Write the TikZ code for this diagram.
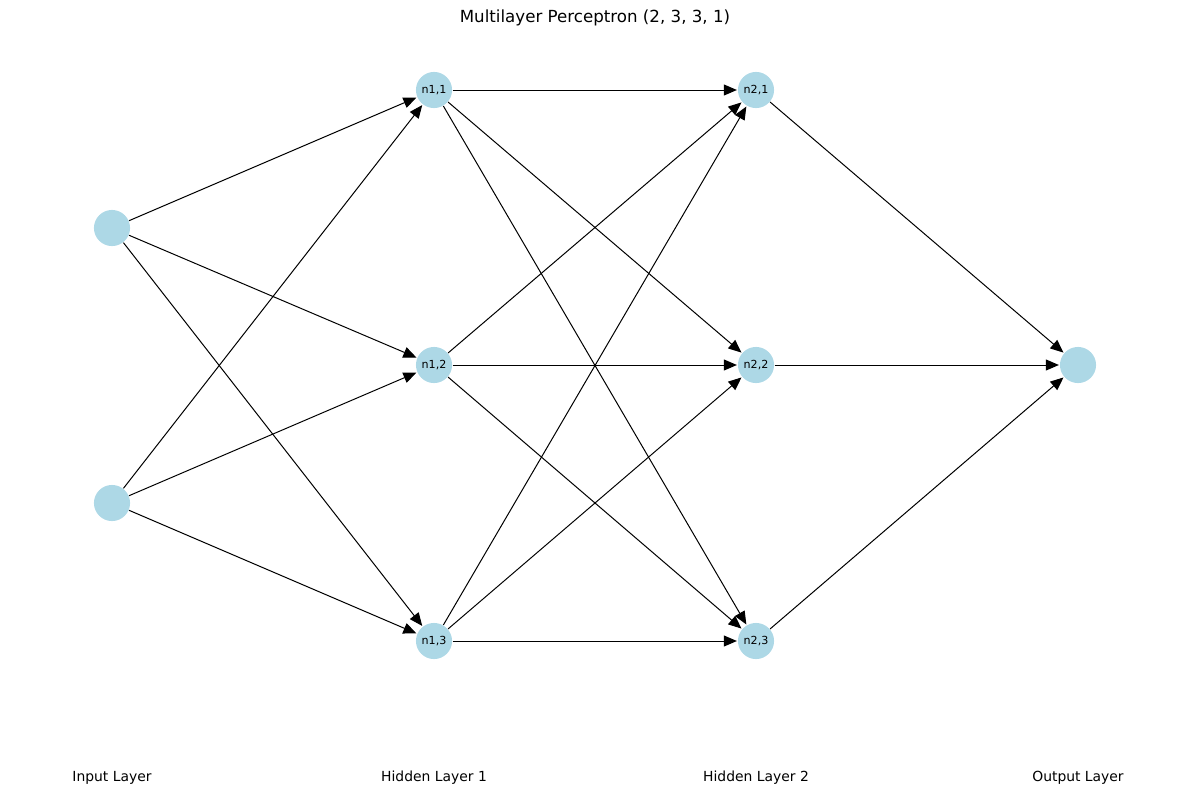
\documentclass[tikz,border=0pt]{standalone}
\usepackage{fontspec}
\setmainfont{DejaVu Sans}
\usetikzlibrary{arrows.meta}
\definecolor{neuron}{HTML}{ADD8E6}
\tikzset{every picture/.style={line width=0.72pt}}

\begin{document}
\begin{tikzpicture}[x=0.72pt, y=-0.72pt,
                    neuron/.style={circle, fill=neuron, minimum size=26pt, inner sep=0pt, font=\fontsize{8}{9}\selectfont},
                    edge/.style={-{Triangle[length=9.4pt,width=7.9pt]}, shorten >=0.4pt},
                    layer/.style={font=\fontsize{10}{12}\selectfont}]
  \useasboundingbox (0,0) rectangle (1189,796);
  \def\xIn{112}
  \def\xHa{434}
  \def\xHb{756}
  \def\xOut{1078}

  % title
  \node[font=\fontsize{12}{14}\selectfont] (title) at (595,18) {Multilayer Perceptron (2, 3, 3, 1)};

  % neurons
  \node[neuron] (i1) at (\xIn,228) {};
  \node[neuron] (i2) at (\xIn,503) {};
  \foreach \k/\y in {1/90,2/365,3/641}{
    \node[neuron] (a\k) at (\xHa,\y) {n1,\k};
    \node[neuron] (b\k) at (\xHb,\y) {n2,\k};
  }
  \node[neuron] (o1) at (\xOut,365) {};

  % connections
  \foreach \i in {1,2}
    \foreach \j in {1,2,3}
      \draw[edge] (i\i) -- (a\j);
  \foreach \i in {1,2,3}{
    \foreach \j in {1,2,3}
      \draw[edge] (a\i) -- (b\j);
    \draw[edge] (b\i) -- (o1);
  }

  % layer names
  \node[layer] (lIn)  at (\xIn,778)  {Input Layer};
  \node[layer] (lHa)  at (\xHa,778)  {Hidden Layer 1};
  \node[layer] (lHb)  at (\xHb,778)  {Hidden Layer 2};
  \node[layer] (lOut) at (\xOut,778) {Output Layer};
\end{tikzpicture}
\end{document}
